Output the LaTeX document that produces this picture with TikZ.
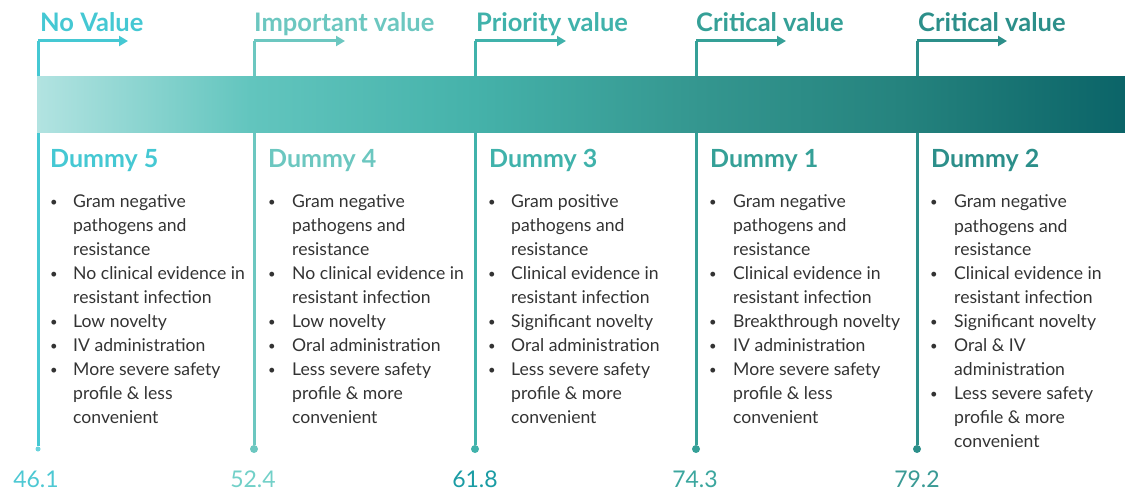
\documentclass[tikz,border=0pt]{standalone}
\usepackage{fontspec}
\setmainfont{Lato}
\usetikzlibrary{arrows.meta}
\definecolor{cA}{HTML}{45C8D3}
\definecolor{cB}{HTML}{6CC7C0}
\definecolor{cC}{HTML}{40B2AB}
\definecolor{cD}{HTML}{35A097}
\definecolor{cE}{HTML}{2C8F8A}
\definecolor{nA}{HTML}{4DC8D3}
\definecolor{nB}{HTML}{72D0C8}
\definecolor{nC}{HTML}{1A9CA4}
\definecolor{nD}{HTML}{3BA69E}
\definecolor{nE}{HTML}{3A9A95}
\definecolor{txt}{HTML}{333333}
\definecolor{sA}{HTML}{B2E3E1}
\definecolor{sB}{HTML}{62C5BE}
\definecolor{sC}{HTML}{45B2AA}
\definecolor{sD}{HTML}{34968F}
\definecolor{sE}{HTML}{25837E}
\definecolor{sF}{HTML}{0B6468}
\pgfdeclarehorizontalshading{barshade}{100bp}{color(0bp)=(sA); color(25bp)=(sA); color(34.8bp)=(sB); color(45.1bp)=(sC); color(55.5bp)=(sD); color(64.7bp)=(sE); color(75bp)=(sF); color(100bp)=(sF)}
\tikzset{
  hdr/.style={anchor=base west, inner sep=0pt, font=\fontsize{25.5}{30}\selectfont\bfseries},
  ttl/.style={anchor=base west, inner sep=0pt, font=\fontsize{25}{28}\selectfont\bfseries},
  num/.style={anchor=base, inner sep=0pt, font=\fontsize{23}{26}\selectfont},
  lst/.style={anchor=north west, inner sep=0pt, text=txt, font=\fontsize{17.6}{24}\selectfont},
  vline/.style={line width=3pt},
  harrow/.style={line width=3pt, -{Triangle[length=9pt,width=10pt]}},
  dotA/.style={circle, fill, inner sep=0pt, minimum size=5pt},
  dotB/.style={circle, fill, inner sep=0pt, minimum size=8pt},
}
\newcommand\bul{{\fontsize{13}{24}\selectfont\raisebox{1pt}{•}}}
\begin{document}
\begin{tikzpicture}[x=1pt,y=-1pt]
\useasboundingbox (0,0) rectangle (1125,494);
% column 1
\coordinate (t1) at (38,41);
\coordinate (a1) at (128,41);
\node[dotA, fill=cA!80] (d1) at (38,449) {};
\draw[vline, cA] (t1) -- (d1);
\draw[harrow, cA] (t1) -- (a1);
\node[hdr, text=cA] (h1) at (40,32) {No Value};
\node[ttl, text=cA] (T1) at (50,168) {Dummy 5};
\node[num, text=nA] (n1) at (36,487) {46.1};
\node[lst] (l1) at (50,191) {\begin{tabular}{@{}p{23pt}@{}l@{}}
\bul & Gram negative\\ & pathogens and\\ & resistance\\
\bul & No clinical evidence in\\ & resistant infection\\
\bul & Low novelty\\
\bul & IV administration\\
\bul & More severe safety\\ & profile \& less\\ & convenient
\end{tabular}};
% column 2
\coordinate (t2) at (254,41);
\coordinate (a2) at (345,41);
\node[dotB, fill=cB] (d2) at (254,449) {};
\draw[vline, cB] (t2) -- (d2);
\draw[harrow, cB] (t2) -- (a2);
\node[hdr, text=cB] (h2) at (254,32) {Important value};
\node[ttl, text=cB] (T2) at (268,168) {Dummy 4};
\node[num, text=nB] (n2) at (253,487) {52.4};
\node[lst] (l2) at (268,191) {\begin{tabular}{@{}p{24pt}@{}l@{}}
\bul & Gram negative\\ & pathogens and\\ & resistance\\
\bul & No clinical evidence in\\ & resistant infection\\
\bul & Low novelty\\
\bul & Oral administration\\
\bul & Less severe safety\\ & profile \& more\\ & convenient
\end{tabular}};
% column 3
\coordinate (t3) at (475,41);
\coordinate (a3) at (566,41);
\node[dotB, fill=cC] (d3) at (475,449) {};
\draw[vline, cC] (t3) -- (d3);
\draw[harrow, cC] (t3) -- (a3);
\node[hdr, text=cC] (h3) at (476,32) {Priority value};
\node[ttl, text=cC] (T3) at (489,168) {Dummy 3};
\node[num, text=nC] (n3) at (475,487) {61.8};
\node[lst] (l3) at (488,191) {\begin{tabular}{@{}p{23pt}@{}l@{}}
\bul & Gram positive\\ & pathogens and\\ & resistance\\
\bul & Clinical evidence in\\ & resistant infection\\
\bul & Significant novelty\\
\bul & Oral administration\\
\bul & Less severe safety\\ & profile \& more\\ & convenient
\end{tabular}};
% column 4
\coordinate (t4) at (696,41);
\coordinate (a4) at (786,41);
\node[dotB, fill=cD] (d4) at (696,449) {};
\draw[vline, cD] (t4) -- (d4);
\draw[harrow, cD] (t4) -- (a4);
\node[hdr, text=cD] (h4) at (696,32) {Critical value};
\node[ttl, text=cD] (T4) at (710,168) {Dummy 1};
\node[num, text=nD] (n4) at (695,487) {74.3};
\node[lst] (l4) at (709,191) {\begin{tabular}{@{}p{24pt}@{}l@{}}
\bul & Gram negative\\ & pathogens and\\ & resistance\\
\bul & Clinical evidence in\\ & resistant infection\\
\bul & Breakthrough novelty\\
\bul & IV administration\\
\bul & More severe safety\\ & profile \& less\\ & convenient
\end{tabular}};
% column 5
\coordinate (t5) at (917,41);
\coordinate (a5) at (1007,41);
\node[dotB, fill=cE] (d5) at (917,449) {};
\draw[vline, cE] (t5) -- (d5);
\draw[harrow, cE] (t5) -- (a5);
\node[hdr, text=cE] (h5) at (918,32) {Critical value};
\node[ttl, text=cE] (T5) at (931,168) {Dummy 2};
\node[num, text=nE] (n5) at (917,487) {79.2};
\node[lst] (l5) at (930,191) {\begin{tabular}{@{}p{24pt}@{}l@{}}
\bul & Gram negative\\ & pathogens and\\ & resistance\\
\bul & Clinical evidence in\\ & resistant infection\\
\bul & Significant novelty\\
\bul & Oral \& IV\\ & administration\\
\bul & Less severe safety\\ & profile \& more\\ & convenient
\end{tabular}};
% bar (over the lines)
\shade[shading=barshade] (37,77) rectangle (1125,133);
\end{tikzpicture}
\end{document}
